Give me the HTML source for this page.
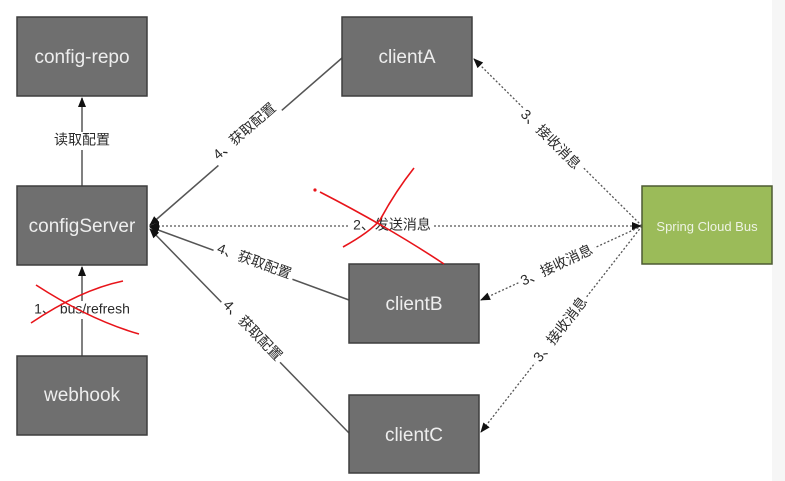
<!DOCTYPE html>
<html><head><meta charset="utf-8"><style>
body{margin:0;background:#fff;width:785px;height:481px;overflow:hidden}
svg{display:block}
.bx{fill:#6f6f6f;stroke:#3e3e3e;stroke-width:1.5}
.bt{fill:#eee;font-family:"Liberation Sans",sans-serif;font-size:19px;text-anchor:middle}
.lb{font-family:"Liberation Sans","Noto Sans CJK SC",sans-serif;font-size:14px;fill:#2a2a2a;text-anchor:middle;dominant-baseline:middle}
.ln{stroke:#555;stroke-width:1.5;fill:none}
.dl{stroke:#555;stroke-width:1.3;fill:none;stroke-dasharray:2,2}
.bg{fill:#fff}
</style></head><body>
<svg width="785" height="481" viewBox="0 0 785 481">
<defs>
<marker id="a" markerWidth="10" markerHeight="10" refX="9" refY="5" orient="auto" markerUnits="userSpaceOnUse"><path d="M0,1 L10,5 L0,9 z" fill="#111"/></marker>
<marker id="s" markerWidth="10" markerHeight="10" refX="1" refY="5" orient="auto" markerUnits="userSpaceOnUse"><path d="M10,1 L0,5 L10,9 z" fill="#111"/></marker>
</defs>
<rect x="772" y="0" width="13" height="481" fill="#f6f6f6"/>
<line class="ln" x1="82" y1="186" x2="82" y2="98" marker-end="url(#a)"/>
<line class="ln" x1="82" y1="356" x2="82" y2="267" marker-end="url(#a)"/>
<line class="ln" x1="342" y1="58" x2="150" y2="225" marker-end="url(#a)"/>
<line class="ln" x1="349" y1="300" x2="150" y2="227" marker-end="url(#a)"/>
<line class="ln" x1="349" y1="433" x2="150" y2="229" marker-end="url(#a)"/>
<line class="dl" x1="150" y1="226" x2="641" y2="226" marker-start="url(#s)" marker-end="url(#a)"/>
<line class="dl" x1="642" y1="226" x2="474" y2="59" marker-end="url(#a)"/>
<line class="dl" x1="642" y1="226" x2="481" y2="300" marker-end="url(#a)"/>
<line class="dl" x1="642" y1="226" x2="481" y2="432" marker-end="url(#a)"/>
<g transform="translate(82,141)"><rect class="bg" x="-32" y="-9" width="64" height="18"/><text class="lb">读取配置</text></g>
<g transform="translate(82,310)"><rect class="bg" x="-62" y="-9" width="124" height="18"/><text class="lb">1、 bus/refresh</text></g>
<g transform="translate(245,132) rotate(-41)"><rect class="bg" x="-42" y="-9" width="84" height="18"/><text class="lb">4、获取配置</text></g>
<g transform="translate(254,262) rotate(20)"><rect class="bg" x="-42" y="-9" width="84" height="18"/><text class="lb">4、获取配置</text></g>
<g transform="translate(252,331) rotate(46)"><rect class="bg" x="-42" y="-9" width="84" height="18"/><text class="lb">4、获取配置</text></g>
<g transform="translate(392,226)"><rect class="bg" x="-42" y="-9" width="84" height="18"/><text class="lb">2、发送消息</text></g>
<g transform="translate(550,140) rotate(45)"><rect class="bg" x="-42" y="-9" width="84" height="18"/><text class="lb">3、接收消息</text></g>
<g transform="translate(557,266) rotate(-25)"><rect class="bg" x="-42" y="-9" width="84" height="18"/><text class="lb">3、接收消息</text></g>
<g transform="translate(561,330) rotate(-52)"><rect class="bg" x="-42" y="-9" width="84" height="18"/><text class="lb">3、接收消息</text></g>
<rect class="bx" x="17" y="17" width="130" height="79"/><text class="bt" x="82" y="63">config-repo</text>
<rect class="bx" x="17" y="186" width="130" height="79"/><text class="bt" x="82" y="232">configServer</text>
<rect class="bx" x="17" y="356" width="130" height="79"/><text class="bt" x="82" y="401">webhook</text>
<rect class="bx" x="342" y="17" width="130" height="79"/><text class="bt" x="407" y="63">clientA</text>
<rect class="bx" x="349" y="264" width="130" height="79"/><text class="bt" x="414" y="310">clientB</text>
<rect class="bx" x="349" y="395" width="130" height="78"/><text class="bt" x="414" y="441">clientC</text>
<rect x="642" y="186" width="130" height="78" fill="#9bbb59" stroke="#4d5a33" stroke-width="1.5"/>
<text x="707" y="231" fill="#eef3e4" font-family="Liberation Sans,sans-serif" font-size="13" text-anchor="middle">Spring Cloud Bus</text>
<g stroke="#e8141a" stroke-width="1.6" fill="none">
<path d="M320,192 Q390,228 444,264"/>
<path d="M343,247 Q370,232 380,220 Q395,192 414,168"/>
<circle cx="315" cy="190" r="0.8" fill="#e8141a"/>
<path d="M36,285 Q90,320 139,334"/>
<path d="M31,323 Q80,290 123,281"/>
</g>
</svg>
</body></html>
